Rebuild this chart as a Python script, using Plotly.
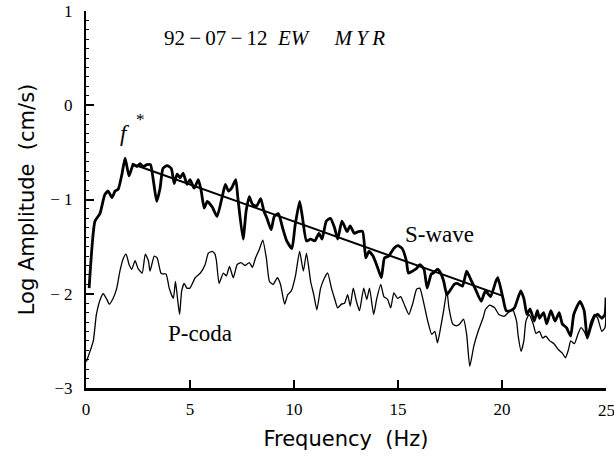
import plotly.graph_objects as go

# S-wave spectrum (Hz, log amplitude)
s_freq = [0.15,0.43,0.67,0.9,1.06,1.25,1.4,1.55,1.73,1.88,2.07,2.27,2.45,2.6,2.75,2.93,3.1,3.24,3.4,3.56,
          3.7,3.9,4.1,4.24,4.38,4.53,4.67,4.86,5.0,5.2,5.4,5.54,5.68,5.83,6.07,6.3,6.55,6.7,6.85,7.0,
          7.2,7.3,7.55,7.7,7.85,8.0,8.2,8.4,8.55,8.7,8.9,9.05,9.25,9.45,9.65,9.9,10.05,10.27,10.4,10.6,
          10.8,11.0,11.2,11.35,11.55,11.75,11.95,12.1,12.3,12.4,12.55,12.7,12.9,13.1,13.3,13.45,13.6,13.8,14.0,14.2,
          14.35,14.55,14.8,15.0,15.2,15.4,15.5,15.7,15.9,16.05,16.25,16.4,16.6,16.7,16.9,17.05,17.2,17.35,17.55,17.7,
          17.85,18.1,18.3,18.5,18.7,19.0,19.2,19.45,19.7,19.8,20.05,20.2,20.4,20.6,20.9,21.05,21.2,21.35,21.55,21.7,
          21.8,22.0,22.15,22.35,22.55,22.75,22.9,23.1,23.3,23.45,23.75,23.95,24.1,24.25,24.45,24.6,24.8,24.95,25.0]
s_amp = [-1.94,-1.23,-1.15,-0.95,-0.91,-0.98,-0.91,-0.89,-0.73,-0.56,-0.75,-0.63,-0.65,-0.62,-0.65,-0.63,-0.63,-0.8,-1.02,-0.88,
         -0.67,-0.64,-0.67,-0.83,-0.73,-0.77,-0.72,-0.84,-0.79,-0.88,-0.79,-0.91,-1.09,-1.02,-1.08,-1.18,-0.97,-0.84,-0.91,-0.88,
         -0.79,-0.98,-1.42,-1.12,-0.97,-1.05,-1.07,-0.99,-1.12,-1.2,-1.32,-1.18,-1.15,-1.3,-1.44,-1.52,-1.28,-1.02,-1.18,-1.44,
         -1.42,-1.44,-1.36,-1.42,-1.23,-1.2,-1.3,-1.42,-1.23,-1.27,-1.34,-1.28,-1.36,-1.34,-1.34,-1.62,-1.55,-1.6,-1.71,-1.83,
         -1.62,-1.6,-1.52,-1.49,-1.52,-1.65,-1.78,-1.76,-1.73,-1.69,-1.74,-1.94,-1.79,-1.78,-1.74,-1.78,-1.87,-2.01,-1.95,-1.9,
         -1.89,-1.92,-1.76,-1.85,-1.94,-2.08,-1.97,-2.03,-1.87,-1.83,-2.05,-2.18,-2.18,-2.15,-1.97,-2.05,-2.22,-2.16,-2.29,-2.18,
         -2.26,-2.2,-2.32,-2.18,-2.29,-2.2,-2.32,-2.36,-2.45,-2.22,-2.08,-2.18,-2.47,-2.36,-2.24,-2.22,-2.26,-2.22,-2.04]

# P-coda spectrum
p_freq = [0.02,0.35,0.5,0.7,0.83,1.0,1.12,1.3,1.48,1.63,1.8,1.93,2.07,2.2,2.36,2.5,2.7,2.85,3.0,3.08,
          3.28,3.42,3.6,3.7,3.85,4.0,4.2,4.3,4.4,4.5,4.6,4.72,4.85,5.0,5.25,5.5,5.73,5.88,6.07,6.2,
          6.27,6.4,6.6,6.75,6.9,7.08,7.27,7.45,7.65,7.85,8.0,8.15,8.33,8.5,8.67,8.82,9.0,9.2,9.35,9.55,
          9.7,9.87,10.07,10.27,10.45,10.6,10.8,10.95,11.1,11.28,11.47,11.62,11.8,11.95,12.1,12.28,12.43,12.58,12.7,12.85,
          13.0,13.15,13.35,13.5,13.63,13.83,13.98,14.17,14.32,14.5,14.65,14.8,14.98,15.13,15.33,15.52,15.7,15.9,16.05,16.25,
          16.43,16.62,16.77,16.9,17.05,17.2,17.35,17.45,17.63,17.8,17.97,18.15,18.3,18.45,18.65,18.85,19.1,19.2,19.4,19.65,
          19.85,20.1,20.3,20.5,20.7,20.78,20.92,21.05,21.15,21.3,21.5,21.63,21.8,21.95,22.1,22.3,22.5,22.7,22.9,23.05,
          23.2,23.3,23.48,23.65,23.8,23.95,24.1,24.25,24.45,24.6,24.8,24.95,25.0]
p_amp = [-2.72,-2.5,-2.22,-2.05,-2.0,-2.06,-2.11,-2.05,-1.94,-1.76,-1.62,-1.58,-1.69,-1.74,-1.65,-1.73,-1.78,-1.58,-1.65,-1.76,
         -1.6,-1.62,-1.78,-1.79,-1.79,-1.94,-2.05,-1.87,-2.05,-2.22,-1.97,-1.89,-1.94,-1.94,-1.83,-1.78,-1.69,-1.57,-1.55,-1.58,
         -1.65,-1.89,-1.78,-1.81,-1.71,-1.83,-1.69,-1.67,-1.7,-1.67,-1.72,-1.62,-1.53,-1.43,-1.62,-1.87,-1.9,-1.83,-1.9,-2.11,
         -2.01,-1.97,-1.81,-1.55,-1.76,-1.57,-1.87,-2.01,-2.17,-1.94,-1.83,-1.78,-1.94,-2.05,-2.15,-2.11,-2.1,-2.01,-2.13,-1.94,
         -2.08,-2.18,-1.94,-2.06,-1.94,-2.22,-2.05,-1.9,-2.03,-2.06,-2.15,-1.99,-2.05,-2.03,-2.13,-2.22,-2.11,-1.95,-1.94,-2.11,
         -2.29,-2.43,-2.4,-2.52,-2.36,-2.17,-1.97,-2.15,-2.32,-2.34,-2.32,-2.27,-2.43,-2.77,-2.55,-2.4,-2.25,-2.17,-2.12,-2.15,
         -2.22,-2.24,-2.2,-2.16,-2.29,-2.45,-2.61,-2.5,-2.29,-2.22,-2.32,-2.42,-2.4,-2.47,-2.45,-2.5,-2.53,-2.59,-2.63,-2.68,
         -2.59,-2.5,-2.53,-2.43,-2.36,-2.4,-2.47,-2.31,-2.22,-2.26,-2.4,-2.36,-2.22]

# fitted decay line
fit_freq = [2.2, 20.0]
fit_amp = [-0.62, -2.02]

x_ticks = [0, 5, 10, 15, 20, 25]
x_ticktext = ["0", "5", "10", "15", "20", ""]   # last label drawn separately so it can sit at the edge
x_last_label = "25"
y_ticks = [-3, -2, -1, 0, 1]
y_ticktext = ["\u22123", "\u2212 2", "\u2212 1", "0", "1"]

SERIF = "Liberation Serif"
SANS = "DejaVu Sans"
NB = "\u00a0"
TH = "\u2009"

fig = go.Figure()
fig.add_trace(go.Scatter(x=p_freq, y=p_amp, mode="lines",
                         line=dict(color="black", width=1.3, shape="spline", smoothing=0.5)))
fig.add_trace(go.Scatter(x=s_freq, y=s_amp, mode="lines",
                         line=dict(color="black", width=2.8, shape="spline", smoothing=0.5)))
fig.add_trace(go.Scatter(x=fit_freq, y=fit_amp, mode="lines",
                         line=dict(color="black", width=2)))

title_txt = ("92" + TH + "\u2212" + TH + "07" + TH + "\u2212" + TH + "12" + NB * 2 +
             "<i>EW</i>" + NB * 5 + "<i>M" + TH + "Y" + TH + "R</i>")
fig.add_annotation(x=3.66, y=0.71, xanchor="left", yanchor="middle", showarrow=False,
                   text=title_txt, font=dict(family=SERIF, size=21, color="black"))
fig.add_annotation(x=1.88, y=-0.3, showarrow=False, text="<i>f</i>",
                   font=dict(family=SERIF, size=23, color="black"))
fig.add_annotation(x=2.6, y=-0.15, showarrow=False, text="*",
                   font=dict(family=SERIF, size=17, color="black"))
fig.add_annotation(x=17.0, y=-1.37, showarrow=False, text="S-wave",
                   font=dict(family=SERIF, size=23, color="black"))
fig.add_annotation(x=5.5, y=-2.42, showarrow=False, text="P-coda",
                   font=dict(family=SERIF, size=23, color="black"))
fig.add_annotation(x=x_ticks[-1], xref="x", y=0, yref="paper", yanchor="top", yshift=-11,
                   showarrow=False, text=x_last_label,
                   font=dict(family=SERIF, size=17, color="black"))

fig.update_layout(
    width=614, height=459,
    margin=dict(l=86, r=8, t=11, b=71),
    plot_bgcolor="white", paper_bgcolor="white",
    showlegend=False,
    xaxis=dict(range=[0, 25], tickvals=x_ticks, ticktext=x_ticktext, ticks="inside", ticklen=8, tickwidth=2,
               tickcolor="black", showline=True, linewidth=2.5, linecolor="black",
               showgrid=False, zeroline=False, ticklabelstandoff=4,
               tickfont=dict(family=SERIF, size=17, color="black"),
               title=dict(text="Frequency" + NB * 2 + "(Hz)", standoff=14,
                          font=dict(family=SANS, size=21, color="black"))),
    yaxis=dict(range=[-3, 1], tickvals=y_ticks, ticktext=y_ticktext, ticks="inside", ticklen=8,
               tickwidth=2, tickcolor="black", showline=True, linewidth=2, linecolor="black",
               showgrid=False, zeroline=False, ticklabelstandoff=8, automargin=False,
               minor=dict(ticks="inside", dtick=0.1, ticklen=3, tickwidth=1, tickcolor="black", showgrid=False),
               tickfont=dict(family=SERIF, size=17, color="black"),
               title=dict(text="Log Amplitude" + NB * 2 + "(cm/s)", standoff=10,
                          font=dict(family=SANS, size=21, color="black"))),
)

fig.write_html("out.html")
